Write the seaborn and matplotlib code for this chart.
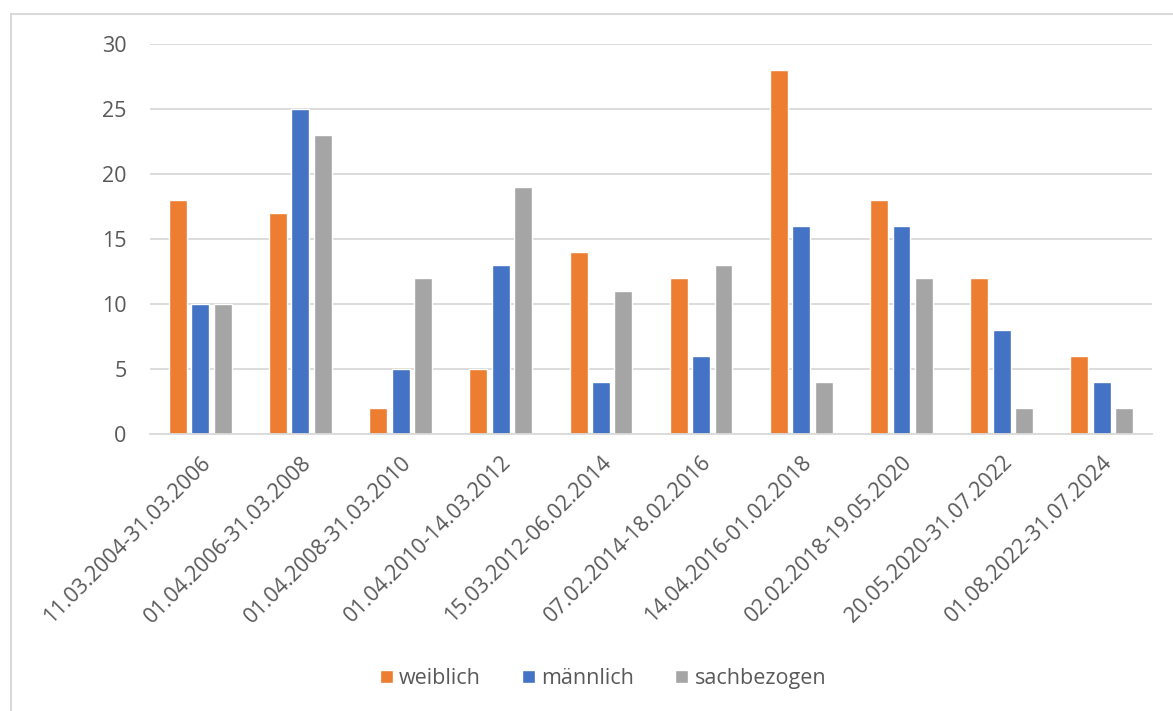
import pandas as pd
import matplotlib.pyplot as plt
import matplotlib.patches as patches
import seaborn as sns

# --- Data ---
periods = [
    "11.03.2004-31.03.2006", "01.04.2006-31.03.2008", "01.04.2008-31.03.2010",
    "01.04.2010-14.03.2012", "15.03.2012-06.02.2014", "07.02.2014-18.02.2016",
    "14.04.2016-01.02.2018", "02.02.2018-19.05.2020", "20.05.2020-31.07.2022",
    "01.08.2022-31.07.2024",
]
weiblich = [18, 17, 2, 5, 14, 12, 28, 18, 12, 6]
maennlich = [10, 25, 5, 13, 4, 6, 16, 16, 8, 4]
sachbezogen = [10, 23, 12, 19, 11, 13, 4, 12, 2, 2]
series_names = ["weiblich", "männlich", "sachbezogen"]
colors = ["#ED7D31", "#4472C4", "#A5A5A5"]

# --- Style ---
sns.set_theme(style="white")
plt.rcParams['font.family'] = ['Open Sans', 'DejaVu Sans']
TEXT = "#595959"
FS = 15.5

df = pd.DataFrame({"period": periods, "weiblich": weiblich,
                   "männlich": maennlich, "sachbezogen": sachbezogen})
long = df.melt(id_vars="period", var_name="serie", value_name="anzahl")

fig = plt.figure(figsize=(11.73, 7.11), dpi=100)
ax = fig.add_axes([0.128, 0.3896, 0.854, 0.5485])

sns.barplot(data=long, x="period", y="anzahl", hue="serie", order=periods,
            hue_order=series_names, palette=colors, width=0.67, gap=0.2,
            saturation=1, ax=ax, legend=True)

ax.set_ylim(0, 30)
ax.set_xlim(-0.5, len(periods) - 0.5)
ax.set_yticks(range(0, 31, 5))
ax.yaxis.grid(True, color="#D9D9D9", linewidth=1.3)
ax.set_axisbelow(True)
for side in ["top", "right", "left"]:
    ax.spines[side].set_visible(False)
ax.spines["bottom"].set_color("#D9D9D9")
ax.spines["bottom"].set_linewidth(1.3)
ax.tick_params(axis="both", length=0, colors=TEXT, labelsize=FS)
ax.tick_params(axis="y", pad=17)
ax.tick_params(axis="x", pad=13)
ax.set_xlabel("")
ax.set_ylabel("")
plt.setp(ax.get_xticklabels(), rotation=45, ha="right", rotation_mode="anchor")

ax.legend(loc="center", bbox_to_anchor=(0.452, -0.627), ncol=3, frameon=False,
          fontsize=FS, labelcolor=TEXT, handlelength=0.6, handleheight=0.6,
          handletextpad=0.3, columnspacing=1.9)

# chart frame as in the source
fig.add_artist(patches.Rectangle((11 / 1173, -0.1), 1.2, 1 - 14 / 711 + 0.1,
                                 transform=fig.transFigure, fill=False,
                                 edgecolor="#D9D9D9", linewidth=1.5))

plt.savefig("out.png", dpi=100)
